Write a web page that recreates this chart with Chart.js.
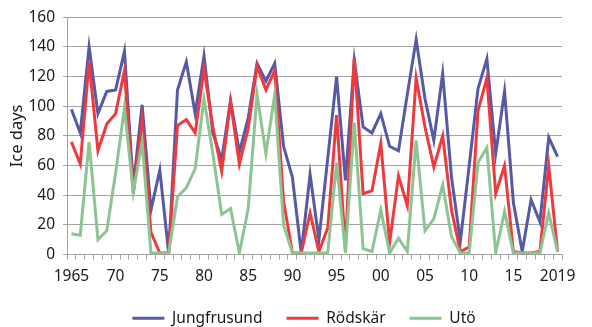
<!DOCTYPE html>
<html>
<head>
<meta charset="utf-8">
<script src="https://cdn.jsdelivr.net/npm/chart.js@4"></script>
<style>
html, body { margin: 0; padding: 0; background: #fff; }
</style>
</head>
<body>
<canvas id="iceChart" width="592" height="327"></canvas>
<script>
// Tick labels for the 56 winters on the x axis (blank = no label)
const xLabels = [
    '1965', '', '', '', '', '70', '', '', '', '', '75', '', '', '', '',
    '80', '', '', '', '', '85', '', '', '', '', '90', '', '', '', '',
    '95', '', '', '', '', '00', '', '', '', '', '05', '', '', '', '',
    '10', '', '', '', '', '15', '', '', '', '', '2019'
];

// Ice days per winter
const jungfrusund = [
    98, 82, 140, 95, 110, 111, 137, 46, 101, 30, 57, 1, 111, 130, 95,
    134, 82, 64, 104, 69, 92, 129, 117, 129, 73, 52, 1, 54, 10, 65,
    120, 50, 131, 86, 82, 95, 73, 70, 108, 145, 105, 77, 122, 52, 9,
    60, 112, 132, 68, 110, 35, 2, 37, 22, 79, 66
];
const rodskar = [
    76, 61, 130, 70, 88, 95, 124, 41, 90, 15, 1, 1, 87, 91, 82,
    125, 86, 56, 103, 61, 85, 127, 111, 124, 36, 1, 1, 28, 2, 18,
    94, 4, 133, 41, 43, 75, 8, 53, 33, 119, 86, 59, 80, 30, 2,
    5, 97, 119, 41, 60, 2, 1, 1, 2, 60, 2
];
const uto = [
    14, 13, 76, 10, 16, 55, 99, 42, 76, 1, 1, 1, 39, 45, 58,
    105, 68, 27, 31, 1, 31, 108, 68, 108, 20, 1, 1, 1, 1, 1,
    62, 1, 89, 4, 2, 30, 1, 11, 2, 77, 16, 24, 47, 12, 1,
    1, 62, 72, 1, 29, 1, 1, 1, 1, 28, 2
];

const gridColor = '#a3a3a3';
const textColor = '#1a1a1a';
const narrowFont = "'Liberation Sans Narrow', 'Noto Sans', sans-serif";

function lineSet(label, data, color, order) {
    return {
        label: label,
        data: data,
        borderColor: color,
        backgroundColor: color,
        borderWidth: 3,
        pointRadius: 0,
        tension: 0,
        order: order
    };
}

// legend sits a bit right of the canvas centre in the original
const shiftLegend = {
    id: 'shiftLegend',
    afterLayout(chart) {
        if (chart.legend) {
            chart.legend.left += 23;
            chart.legend.right += 23;
        }
    }
};

new Chart(document.getElementById('iceChart'), {
    type: 'line',
    data: {
        labels: xLabels,
        datasets: [
            lineSet('Jungfrusund', jungfrusund, '#5659a3', 3),
            lineSet('Rödskär', rodskar, '#ee3a3e', 2),
            lineSet('Utö', uto, '#8cc593', 1)
        ]
    },
    plugins: [shiftLegend],
    options: {
        responsive: false,
        animation: false,
        layout: {
            padding: { left: 0, right: 30, top: 10, bottom: -9 }
        },
        plugins: {
            tooltip: { enabled: false },
            legend: {
                position: 'bottom',
                labels: {
                    boxWidth: 32,
                    boxHeight: 3,
                    padding: 24,
                    color: textColor,
                    font: { family: 'Noto Sans', size: 15.5 },
                    sort: (a, b) => a.datasetIndex - b.datasetIndex,
                    generateLabels: (chart) => {
                        const items = Chart.defaults.plugins.legend.labels.generateLabels(chart);
                        return items.map(it => ({ ...it, lineWidth: 0, fillStyle: it.strokeStyle }));
                    }
                }
            }
        },
        scales: {
            x: {
                offset: true,
                afterFit: (scale) => { scale.height = 32; },
                grid: {
                    offset: true,
                    drawOnChartArea: false,
                    color: gridColor,
                    tickLength: 5
                },
                border: { color: gridColor },
                ticks: {
                    autoSkip: false,
                    maxRotation: 0,
                    padding: 8,
                    color: textColor,
                    font: { family: narrowFont, size: 15.5 }
                }
            },
            y: {
                min: 0,
                max: 160,
                afterFit: (scale) => { scale.width = 67; },
                grid: {
                    color: gridColor,
                    tickLength: 4
                },
                border: { color: gridColor },
                ticks: {
                    stepSize: 20,
                    padding: 8,
                    color: textColor,
                    font: { family: narrowFont, size: 15.5 }
                },
                title: {
                    display: true,
                    text: 'Ice days',
                    color: textColor,
                    padding: { top: 7, bottom: 0 },
                    font: { family: 'Noto Sans', size: 16.5 }
                }
            }
        }
    }
});
</script>
</body>
</html>
